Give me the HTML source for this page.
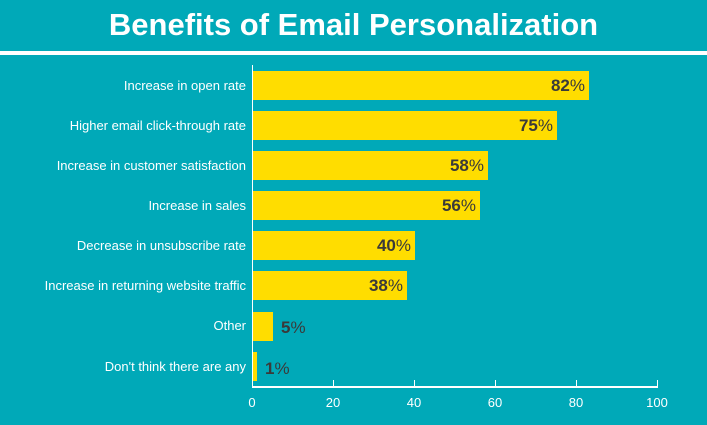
<!DOCTYPE html>
<html><head><meta charset="utf-8"><style>
body{margin:0;width:707px;height:425px;background:#00A9B8;overflow:hidden;font-family:"Liberation Sans",sans-serif;position:relative}
.t{position:absolute;top:7px;left:0;width:707px;text-align:center;color:#fff;font-size:31px;font-weight:bold}
.band{position:absolute;top:51px;left:0;width:707px;height:4px;background:#fff}
.l{position:absolute;right:461px;color:#fff;font-size:13px;line-height:16px;white-space:nowrap}
.b{position:absolute;left:253px;height:29px;background:#FFDD00}
.v{position:absolute;color:#3a3a3a;font-size:17px;font-weight:bold;line-height:18px}
.v span{font-weight:normal}
.tk{position:absolute;top:395px;color:#fff;font-size:13px;width:40px;text-align:center;margin-left:-20px}
</style></head><body>
<div class="t">Benefits of Email Personalization</div>
<div class="band"></div>
<div style="position:absolute;left:252px;top:65px;width:1px;height:323px;background:#fff"></div>
<div style="position:absolute;left:252px;top:386px;width:406px;height:2px;background:#fff"></div>
<div style="position:absolute;left:333px;top:380px;width:1px;height:7px;background:#fff"></div>
<div style="position:absolute;left:414px;top:380px;width:1px;height:7px;background:#fff"></div>
<div style="position:absolute;left:495px;top:380px;width:1px;height:7px;background:#fff"></div>
<div style="position:absolute;left:576px;top:380px;width:1px;height:7px;background:#fff"></div>
<div style="position:absolute;left:657px;top:380px;width:1px;height:7px;background:#fff"></div>
<div class="tk" style="left:252px">0</div><div class="tk" style="left:333px">20</div><div class="tk" style="left:414px">40</div><div class="tk" style="left:495px">60</div><div class="tk" style="left:576px">80</div><div class="tk" style="left:657px">100</div>

<div class="l" style="top:78px">Increase in open rate</div>
<div class="b" style="top:71px;width:336px"></div>
<div class="v" style="top:77px;right:122px">82<span>%</span></div>

<div class="l" style="top:118px">Higher email click-through rate</div>
<div class="b" style="top:111px;width:304px"></div>
<div class="v" style="top:117px;right:154px">75<span>%</span></div>

<div class="l" style="top:158px">Increase in customer satisfaction</div>
<div class="b" style="top:151px;width:235px"></div>
<div class="v" style="top:157px;right:223px">58<span>%</span></div>

<div class="l" style="top:198px">Increase in sales</div>
<div class="b" style="top:191px;width:227px"></div>
<div class="v" style="top:197px;right:231px">56<span>%</span></div>

<div class="l" style="top:238px">Decrease in unsubscribe rate</div>
<div class="b" style="top:231px;width:162px"></div>
<div class="v" style="top:237px;right:296px">40<span>%</span></div>

<div class="l" style="top:278px">Increase in returning website traffic</div>
<div class="b" style="top:271px;width:154px"></div>
<div class="v" style="top:277px;right:304px">38<span>%</span></div>

<div class="l" style="top:318px">Other</div>
<div class="b" style="top:312px;width:20px"></div>
<div class="v" style="top:319px;left:281px">5<span>%</span></div>

<div class="l" style="top:359px">Don't think there are any</div>
<div class="b" style="top:352px;width:4px"></div>
<div class="v" style="top:360px;left:265px">1<span>%</span></div>
</body></html>
